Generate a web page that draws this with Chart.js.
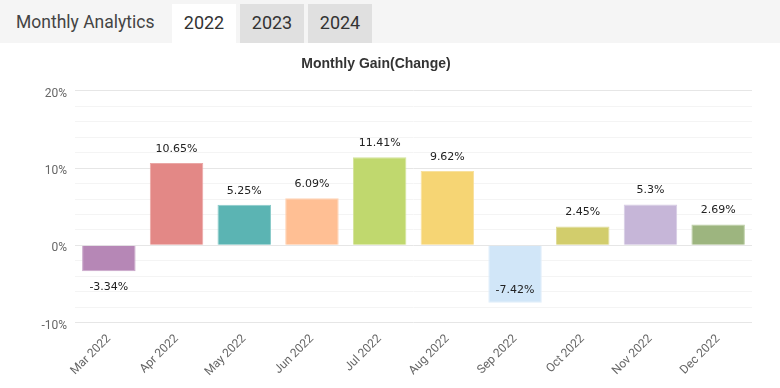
<!DOCTYPE html>
<html>
<head>
<meta charset="utf-8">
<script src="https://cdn.jsdelivr.net/npm/chart.js@4/dist/chart.umd.min.js"></script>
<style>
  body { margin: 0; background: #fff; font-family: Roboto, sans-serif; }
  .header { height: 43px; background: #f5f5f5; position: relative; }
  .header .title { position: absolute; left: 16px; top: 12px; font-size: 17.5px; color: #444; }
  .tab { position: absolute; top: 4px; width: 64px; height: 39px; background: #e0e0e0;
         font-size: 18px; color: #333; text-align: center; line-height: 38px; }
  .tab.active { background: #fff; }
  .wrap { position: absolute; left: 0; top: 43px; width: 780px; height: 345px; }
</style>
</head>
<body>
<div class="header">
  <div class="title">Monthly Analytics</div>
  <div class="tab active" style="left:172px">2022</div>
  <div class="tab" style="left:240px">2023</div>
  <div class="tab" style="left:308px">2024</div>
</div>
<div class="wrap"><canvas id="gainChart"></canvas></div>
<script>
const months = ['Mar 2022','Apr 2022','May 2022','Jun 2022','Jul 2022','Aug 2022','Sep 2022','Oct 2022','Nov 2022','Dec 2022']
const gains = [-3.34, 10.65, 5.25, 6.09, 11.41, 9.62, -7.42, 2.45, 5.3, 2.69]
const barColors = ['#b687b6','#e38886','#5bb4b3','#ffbf94','#c0d86e','#f6d574','#d1e6f8','#d2cd6c','#c6b6d8','#9db57f']
const borderColors = ['#c9a6c9','#eaa7a5','#8acbca','#ffd3b5','#d3e39a','#f8e19e','#e0eefa','#e0dc98','#d6cbe4','#bccfa5']

// draws the value labels above / below each bar
const valueLabels = {
  id: 'valueLabels',
  afterDatasetsDraw(chart) {
    const ctx = chart.ctx
    const meta = chart.getDatasetMeta(0)
    const area = chart.chartArea
    ctx.save()
    ctx.font = '11px "DejaVu Sans"'
    ctx.fillStyle = '#222'
    ctx.textAlign = 'center'
    ctx.textBaseline = 'middle'
    meta.data.forEach((bar, i) => {
      const v = gains[i]
      let y
      if (v >= 0) {
        y = bar.y - 14
      } else {
        y = bar.y + 16
        if (y > area.bottom - 12) y = bar.y - 13
      }
      ctx.fillText(String(v) + '%', bar.x, y)
    })
    ctx.restore()
  }
}

const ctx = document.getElementById('gainChart').getContext('2d')
const chart = new Chart(ctx, {
  type: 'bar',
  data: {
    labels: months,
    datasets: [{
      data: gains,
      backgroundColor: barColors,
      borderColor: borderColors,
      borderWidth: 1,
      barPercentage: 0.79,
      categoryPercentage: 1
    }]
  },
  options: {
    responsive: true,
    maintainAspectRatio: false,
    animation: false,
    layout: { padding: { left: 0, right: 28, top: 0, bottom: 8 } },
    plugins: {
      legend: { display: false },
      tooltip: { enabled: false },
      title: {
        display: true,
        text: 'Monthly Gain(Change)',
        color: '#333',
        font: { family: '"Liberation Sans", Arial', size: 14, weight: 'bold' },
        padding: { top: 13, bottom: 18 }
      }
    },
    scales: {
      x: {
        grid: { display: false },
        border: { display: false },
        ticks: {
          color: '#666',
          font: { family: 'Roboto', size: 12 },
          maxRotation: 45,
          minRotation: 45,
          padding: 1
        }
      },
      y: {
        min: -10,
        max: 20,
        border: { display: false },
        grid: {
          color: c => (c.tick && c.tick.value % 10 === 0) ? '#e6e6e6' : '#f4f4f4',
          lineWidth: 1,
          drawTicks: false
        },
        ticks: {
          stepSize: 2,
          color: '#666',
          font: { family: 'Roboto', size: 12 },
          padding: 8,
          labelOffset: 3,
          autoSkip: false,
          callback: v => (v % 10 === 0 ? v + '%' : '')
        },
        afterFit: scale => { scale.width = 75 }
      }
    }
  },
  plugins: [valueLabels]
})
</script>
</body>
</html>
